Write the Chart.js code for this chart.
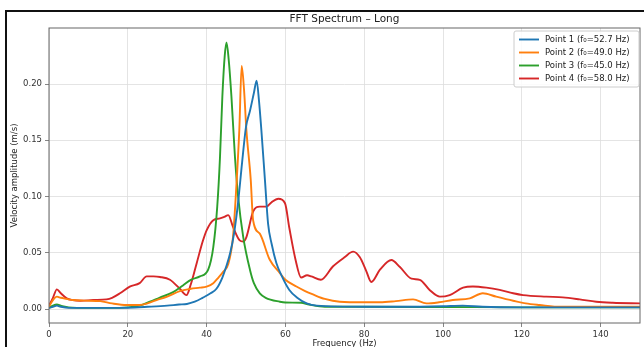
<!DOCTYPE html>
<html>
<head>
<meta charset="utf-8">
<script src="https://cdn.jsdelivr.net/npm/chart.js@4.4.1/dist/chart.umd.min.js"></script>
<style>
  html, body { margin: 0; padding: 0; background: #fff; overflow: hidden; }
  #wrap { position: relative; width: 644px; height: 347px; overflow: hidden; }
  #fftChart { position: absolute; left: 0; top: 0; }
  .rule { position: absolute; background: #111; pointer-events: none; }
  #ruleTop { left: 5px; top: 10px; width: 639px; height: 1.5px; }
  #ruleLeft { left: 5px; top: 10px; width: 1.5px; height: 337px; }
</style>
</head>
<body>
<div id="wrap">
  <canvas id="fftChart" width="644" height="354"></canvas>
  <div class="rule" id="ruleTop"></div>
  <div class="rule" id="ruleLeft"></div>
</div>
<script>
// values (Hz / m/s)
const labels = ['Point 1 (f\u2080=52.7 Hz)', 'Point 2 (f\u2080=49.0 Hz)', 'Point 3 (f\u2080=45.0 Hz)', 'Point 4 (f\u2080=58.0 Hz)'];
const colors = ['#1f77b4', '#ff7f0e', '#2ca02c', '#d62728'];
const xTicks = [0, 20, 40, 60, 80, 100, 120, 140];
const yTicks = [0, 0.05, 0.10, 0.15, 0.20];

const freq1 = [0, 1, 2, 3, 5, 10, 15, 20, 25, 30, 33, 35, 37, 39, 41, 42.5, 44, 45, 46, 47, 48, 49, 50, 51, 52, 52.7, 53.3, 53.9, 54.8, 55.6, 56.5, 57.7, 59, 61, 63, 65.4, 68, 80, 90, 100, 105, 110, 120, 130, 140, 150];
const amp1  = [0.001, 0.002, 0.003, 0.002, 0.001, 0.001, 0.001, 0.0012, 0.002, 0.003, 0.004, 0.0045, 0.0065, 0.010, 0.014, 0.018, 0.028, 0.038, 0.050, 0.068, 0.095, 0.130, 0.162, 0.176, 0.192, 0.203, 0.185, 0.159, 0.115, 0.076, 0.058, 0.041, 0.030, 0.017, 0.010, 0.005, 0.003, 0.002, 0.002, 0.0025, 0.003, 0.002, 0.0015, 0.0015, 0.0015, 0.0015];

const freq2 = [0, 1, 2, 3, 4.5, 6, 9, 13, 16, 19.7, 23, 25, 27.3, 30, 33.2, 36, 38.3, 40, 41.7, 43, 44.2, 45.5, 46.7, 47.4, 48.3, 48.9, 49.5, 50.1, 51.2, 51.8, 53.5, 56, 58.6, 60, 62.8, 65, 67, 70, 73.8, 80, 84, 88, 92.4, 95.8, 99, 102.5, 106.8, 110.1, 113.5, 117.8, 121, 124.5, 130, 140, 150];
const amp2  = [0.002, 0.008, 0.011, 0.010, 0.009, 0.008, 0.0075, 0.007, 0.005, 0.0036, 0.0036, 0.005, 0.008, 0.011, 0.016, 0.018, 0.019, 0.020, 0.023, 0.028, 0.033, 0.040, 0.064, 0.100, 0.159, 0.216, 0.195, 0.159, 0.115, 0.079, 0.067, 0.044, 0.032, 0.026, 0.020, 0.016, 0.013, 0.009, 0.0065, 0.006, 0.006, 0.007, 0.0086, 0.005, 0.006, 0.008, 0.0095, 0.014, 0.011, 0.0074, 0.005, 0.0036, 0.002, 0.002, 0.002];

const freq3 = [0, 1, 2, 3, 5, 10, 15, 20, 23, 25.6, 28, 31.5, 34, 36, 38.3, 40.4, 41.7, 42.7, 43.4, 44, 44.6, 45.05, 45.6, 46.3, 47.2, 48, 49.3, 51, 52, 53.5, 55, 58.6, 60, 64, 66, 70, 80, 100, 120, 150];
const amp3  = [0.001, 0.003, 0.004, 0.003, 0.0015, 0.001, 0.001, 0.0015, 0.003, 0.0065, 0.010, 0.015, 0.021, 0.026, 0.029, 0.035, 0.055, 0.091, 0.135, 0.189, 0.225, 0.237, 0.222, 0.189, 0.135, 0.100, 0.064, 0.035, 0.023, 0.014, 0.010, 0.0065, 0.0058, 0.0056, 0.004, 0.002, 0.002, 0.0018, 0.0015, 0.0015];

const freq4 = [0, 1, 2, 3, 4.5, 6, 7.9, 11.2, 14.6, 16, 18, 20.5, 23, 24.8, 26.5, 28.2, 30.7, 33.2, 34.9, 36, 37.5, 39, 40, 41.7, 43.4, 44.5, 45.5, 46.7, 48.4, 49.3, 50.1, 51.8, 53.5, 55.2, 56.5, 58.2, 59.9, 61, 62.5, 64, 65.5, 66.6, 69, 72.1, 75, 77.2, 78.9, 80.5, 81.8, 84, 86.9, 89, 92, 94.1, 96.6, 99.2, 101.7, 105.1, 107.6, 111, 114.4, 117.8, 120.3, 126.2, 130.4, 134.7, 138.9, 143.1, 150];
const amp4  = [0.003, 0.010, 0.0175, 0.014, 0.0095, 0.008, 0.0074, 0.008, 0.0086, 0.010, 0.014, 0.020, 0.023, 0.029, 0.029, 0.0285, 0.026, 0.018, 0.0124, 0.022, 0.041, 0.060, 0.070, 0.079, 0.0806, 0.082, 0.0835, 0.073, 0.061, 0.060, 0.064, 0.0865, 0.091, 0.091, 0.095, 0.098, 0.094, 0.072, 0.045, 0.028, 0.030, 0.029, 0.026, 0.038, 0.046, 0.051, 0.046, 0.034, 0.024, 0.035, 0.0436, 0.0376, 0.027, 0.026, 0.017, 0.011, 0.0124, 0.019, 0.020, 0.019, 0.017, 0.014, 0.0124, 0.011, 0.0104, 0.0086, 0.0065, 0.0056, 0.005];

const freqs = [freq1, freq2, freq3, freq4];
const amps = [amp1, amp2, amp3, amp4];
const FONT = '"DejaVu Sans", sans-serif';
const titleText = 'FFT Spectrum \u2013 Long';

// matplotlib-like spines on all four sides
const spines = {
  id: 'spines',
  afterDatasetsDraw(chart) {
    const { ctx, chartArea: a } = chart;
    ctx.save();
    ctx.strokeStyle = '#666';
    ctx.lineWidth = 1;
    ctx.strokeRect(a.left, a.top, a.right - a.left, a.bottom - a.top);
    ctx.restore();
  }
};

// title centred over the plot area, like matplotlib's axes title
const axesTitle = {
  id: 'axesTitle',
  afterDraw(chart) {
    const { ctx, chartArea: a } = chart;
    ctx.save();
    ctx.font = '10.5px ' + FONT;
    ctx.fillStyle = '#222';
    ctx.textAlign = 'center';
    ctx.textBaseline = 'middle';
    ctx.fillText(titleText, (a.left + a.right) / 2, a.top - 9);
    ctx.restore();
  }
};

// legend box inside the upper right corner
const legendBox = {
  id: 'legendBox',
  afterDraw(chart) {
    const { ctx, chartArea } = chart;
    const w = 125, h = 56;
    const x0 = chartArea.right - w - 1, y0 = chartArea.top + 3;
    ctx.save();
    ctx.fillStyle = 'rgba(255,255,255,0.85)';
    ctx.strokeStyle = '#cccccc';
    ctx.lineWidth = 1;
    ctx.beginPath();
    ctx.roundRect(x0, y0, w, h, 2);
    ctx.fill();
    ctx.stroke();
    ctx.font = '8.5px ' + FONT;
    ctx.textBaseline = 'middle';
    chart.data.datasets.forEach((ds, i) => {
      const y = y0 + 8.5 + i * 13;
      ctx.strokeStyle = ds.borderColor;
      ctx.lineWidth = 1.9;
      ctx.beginPath();
      ctx.moveTo(x0 + 5, y);
      ctx.lineTo(x0 + 25, y);
      ctx.stroke();
      ctx.fillStyle = '#222';
      ctx.fillText(ds.label, x0 + 31, y);
    });
    ctx.restore();
  }
};

const ctx = document.getElementById('fftChart').getContext('2d');
const fftChart = new Chart(ctx, {
  type: 'line',
  data: {
    datasets: labels.map((label, i) => ({
      label: label,
      data: freqs[i].map((f, j) => ({ x: f, y: amps[i][j] })),
      borderColor: colors[i],
      backgroundColor: colors[i],
      borderWidth: 1.9,
      pointRadius: 0,
      cubicInterpolationMode: 'monotone',
      fill: false
    }))
  },
  options: {
    responsive: false,
    animation: false,
    layout: { padding: { top: 28, right: 4, left: 0, bottom: 0 } },
    plugins: {
      legend: { display: false },
      tooltip: { enabled: false },
      title: { display: false }
    },
    scales: {
      x: {
        type: 'linear',
        min: 0,
        max: 150,
        afterBuildTicks: s => { s.ticks = xTicks.map(v => ({ value: v })); },
        afterFit: s => { s.height = 31; },
        grid: { color: '#dddddd', lineWidth: 0.8, tickLength: 4, tickColor: '#666' },
        border: { display: false },
        ticks: { color: '#333', font: { family: FONT, size: 8.5 }, padding: 3, maxRotation: 0 },
        title: { display: true, text: 'Frequency (Hz)', color: '#222', font: { family: FONT, size: 8.5 }, padding: { top: 0, bottom: 5 } }
      },
      y: {
        min: -0.0124,
        max: 0.2498,
        afterBuildTicks: s => { s.ticks = yTicks.map(v => ({ value: v })); },
        afterFit: s => { s.width = 49; },
        grid: { color: '#dddddd', lineWidth: 0.8, tickLength: 4, tickColor: '#666' },
        border: { display: false },
        ticks: { color: '#333', font: { family: FONT, size: 8.5 }, padding: 3, callback: v => v.toFixed(2) },
        title: { display: true, text: 'Velocity amplitude (m/s)', color: '#222', font: { family: FONT, size: 8.5 }, padding: { top: 10, bottom: 0 } }
      }
    }
  },
  plugins: [spines, axesTitle, legendBox]
});
</script>
</body>
</html>
